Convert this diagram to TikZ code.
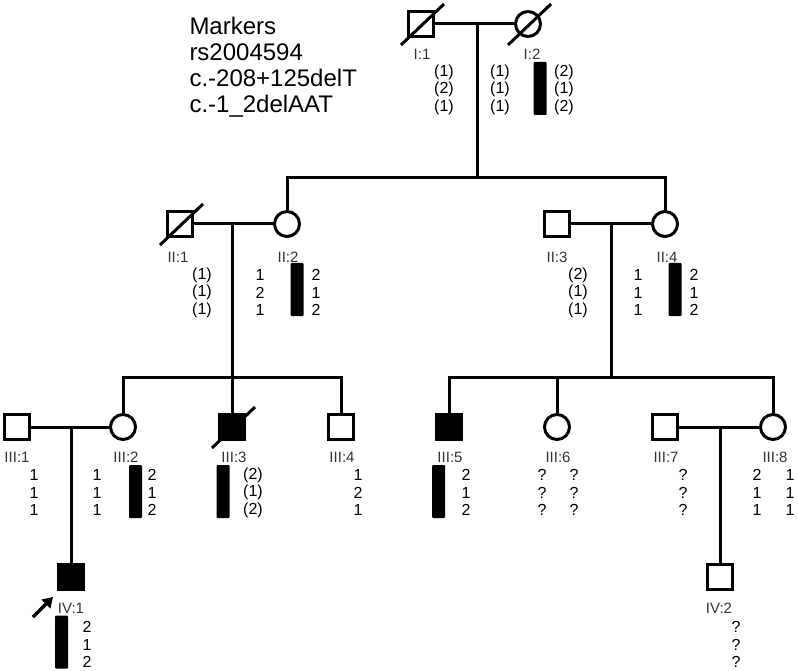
\documentclass[tikz,border=0pt]{standalone}
\usepackage{fontspec}
\setmainfont{Liberation Sans}
\usetikzlibrary{arrows.meta}

\begin{document}
\begin{tikzpicture}[x=1pt,y=-1pt,line width=3pt,
  male/.style={draw,rectangle,minimum size=25pt,inner sep=0pt},
  female/.style={draw,circle,minimum size=25pt,inner sep=0pt},
  affected/.style={fill=black},
  pedlabel/.style={font=\fontsize{15}{15}\selectfont,text=black!80,inner sep=0pt},
  allele/.style={font=\fontsize{16}{16}\selectfont,inner sep=0pt},
  hapbar/.style={rectangle,fill=black,rounded corners=1pt,minimum width=13pt,
    minimum height=53pt,inner sep=0pt},
  markerhead/.style={font=\fontsize{24}{26}\selectfont,inner sep=0pt,anchor=base west}]
  \useasboundingbox (0,0) rectangle (798,671);

  % markers
  \foreach \t [count=\i] in {Markers,rs2004594,c.-208+125delT,c.-1\_2delAAT}
    \node[markerhead] (hdr-\i) at (188,9+26*\i) {\t};

  % individuals
  \node[male] (I1) at (421,24) {};
  \node[female] (I2) at (528,24) {};
  \node[male] (II1) at (180,224) {};
  \node[female] (II2) at (287,224) {};
  \node[male] (II3) at (557,224) {};
  \node[female] (II4) at (665,224) {};
  \node[male] (III1) at (17,427) {};
  \node[female] (III2) at (123,427) {};
  \node[male,affected] (III3) at (232,427) {};
  \node[male] (III4) at (341,427) {};
  \node[male,affected] (III5) at (449,427) {};
  \node[female] (III6) at (557,427) {};
  \node[male] (III7) at (665,427) {};
  \node[female] (III8) at (773,427) {};
  \node[male,affected] (IV1) at (71,577) {};
  \node[male] (IV2) at (720,577) {};

  % deceased
  \foreach \p in {I1,I2,II1,III3}
    \draw (\p) ++(-20,21) -- ++(43,-41);

  % generation I
  \coordinate (m1) at (477,24);
  \coordinate (s1) at (477,178);
  \draw (I1) -- (I2);
  \draw (m1) -- (s1);
  \draw (II2) -- (II2 |- s1) -- (II4 |- s1) -- (II4);

  % generation II
  \coordinate (m2) at (232,224);
  \coordinate (s2) at (232,377);
  \draw (II1) -- (II2);
  \draw (m2) -- (s2);
  \draw (III2) -- (III2 |- s2) -- (III4 |- s2) -- (III4);
  \draw (III3) -- (III3 |- s2);
  \coordinate (m3) at (611,224);
  \coordinate (s3) at (611,377);
  \draw (II3) -- (II4);
  \draw (m3) -- (s3);
  \draw (III5) -- (III5 |- s3) -- (III8 |- s3) -- (III8);
  \draw (III6) -- (III6 |- s3);

  % generation III
  \coordinate (m4) at (71,427);
  \draw (III1) -- (III2);
  \draw (m4) -- (IV1);
  \coordinate (m5) at (720,427);
  \draw (III7) -- (III8);
  \draw (m5) -- (IV2);

  % proband
  \coordinate (pb) at (33,617);
  \coordinate (pt) at (53,597);
  \draw[line width=3.2pt,-{Triangle[length=10pt,width=12pt]}] (pb) -- (pt);

  % labels
  \foreach \p/\t/\x/\y in {I1/I:1/422/54, I2/I:2/532/54,
      II1/II:1/178/257, II2/II:2/288/257, II3/II:3/557/257, II4/II:4/667/257,
      III1/III:1/17/457, III2/III:2/126/457, III3/III:3/234/457,
      III4/III:4/342/457, III5/III:5/450/457, III6/III:6/558/457,
      III7/III:7/666/457, III8/III:8/775/457,
      IV1/IV:1/71/608, IV2/IV:2/719/608}
    \node[pedlabel] (\p-id) at (\x,\y) {\t};

  % haplotype bars
  \foreach \p/\x/\y in {I2/540/88.5, II2/297/289.5, II4/675/289.5,
      III2/135.5/491.5, III3/223/491.5, III5/438.5/491.5, IV1/61.5/642}
    \node[hapbar] (\p-hap) at (\x,\y) {};

  % alleles
  \foreach \p/\x/\y/\a/\b/\c in {
      I1a/444/72/(1)/(2)/(1), I1b/500/72/(1)/(1)/(1), I2b/564/72/(2)/(1)/(2),
      II1a/202/275/(1)/(1)/(1), II2a/260/275/1/2/1, II2b/316/275/2/1/2,
      II3a/578/275/(2)/(1)/(1), II4a/638/275/1/1/1, II4b/694/275/2/1/2,
      III1a/34/475/1/1/1, III2a/97/475/1/1/1, III2b/152/475/2/1/2,
      III3b/253/475/(2)/(1)/(2), III4a/358/475/1/2/1, III5b/466/475/2/1/2,
      III6a/542/475/?/?/?, III6b/574/475/?/?/?, III7a/683/475/?/?/?,
      III8a/757/475/2/1/1, III8b/790/475/1/1/1,
      IV1b/87/627/2/1/2, IV2b/736/627/?/?/?}
  {
    \node[allele] (\p-1) at (\x,\y) {\a};
    \node[allele] (\p-2) at (\x,\y+17.5) {\b};
    \node[allele] (\p-3) at (\x,\y+35) {\c};
  }
\end{tikzpicture}
\end{document}
